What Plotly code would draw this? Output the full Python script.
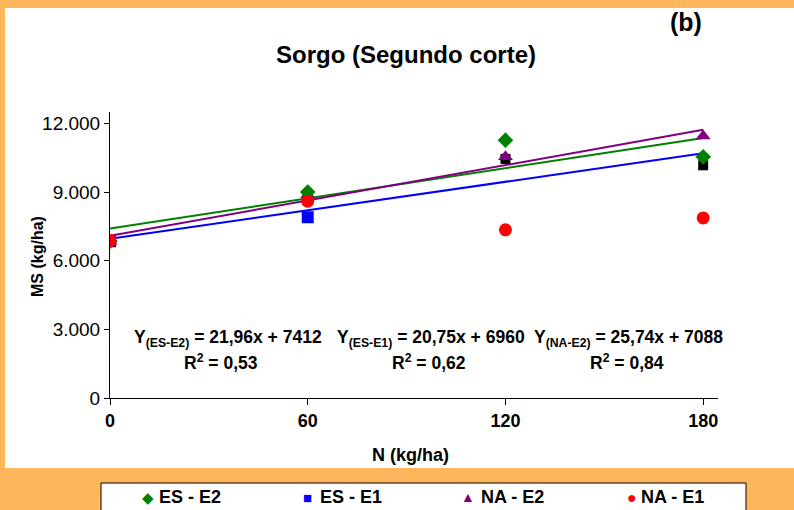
import plotly.graph_objects as go

# ---- data ----
N = [0, 60, 120, 180]
es_e2 = [6850, 9000, 11270, 10540]
es_e1 = [6850, 7900, 10450, 10170]
na_e2 = [6850, 8880, 10540, 11450]
na_e1 = [6880, 8600, 7350, 7870]
# trend-line coefficients as printed on the chart (slope, intercept)
fit_names = ["ES - E2", "ES - E1", "NA - E2"]
fit_slope = [21.96, 20.75, 25.74]
fit_icpt = [7412, 6960, 7088]
eq_texts = ["Y<sub>(ES-E2)</sub> = 21,96x + 7412",
            "Y<sub>(ES-E1)</sub> = 20,75x + 6960",
            "Y<sub>(NA-E2)</sub> = 25,74x + 7088"]
r2_texts = ["R<sup>2</sup> = 0,53", "R<sup>2</sup> = 0,62", "R<sup>2</sup> = 0,84"]
legend_labels = ["ES - E2", "ES - E1", "NA - E2", "NA - E1"]
y_ticks = [0, 3000, 6000, 9000, 12000]
x_ticks = [0, 60, 120, 180]

W, H = 794, 510
L, R, T, B = 110, 718, 112, 398  # plot area pixels

def px(x):
    return (x - L) / (R - L)

def py(y):
    return (B - y) / (B - T)

FONT = "Liberation Sans, Arial, sans-serif"
fig = go.Figure()

fit_colors = ["#008000", "#0000FF", "#800080"]
xs_fit = [N[0], N[-1]]
for name, m, c, col in zip(fit_names, fit_slope, fit_icpt, fit_colors):
    fig.add_trace(go.Scatter(x=xs_fit, y=[c + m * x for x in xs_fit], mode="lines",
                             line=dict(color=col, width=2), showlegend=False,
                             hoverinfo="skip"))

# ES - E1 squares (last two drawn black as in the original)
fig.add_trace(go.Scatter(x=N[:2], y=es_e1[:2], mode="markers", name="ES - E1",
                         marker=dict(symbol="square", size=12, color="#0000FF"),
                         showlegend=False))
fig.add_trace(go.Scatter(x=N[2:], y=es_e1[2:], mode="markers", name="ES - E1",
                         marker=dict(symbol="square", size=10, color="#000000"),
                         showlegend=False))
fig.add_trace(go.Scatter(x=N, y=na_e2, mode="markers", name="NA - E2",
                         marker=dict(symbol="triangle-up", size=13, color="#800080"),
                         showlegend=False))
fig.add_trace(go.Scatter(x=N, y=es_e2, mode="markers", name="ES - E2",
                         marker=dict(symbol="diamond", size=12, color="#008000"),
                         showlegend=False))
fig.add_trace(go.Scatter(x=N, y=na_e1, mode="markers", name="NA - E1",
                         marker=dict(symbol="circle", size=13, color="#FF0000"),
                         showlegend=False))

shapes = [
    dict(type="rect", xref="paper", yref="paper", x0=px(5), x1=px(800),
         y0=py(468), y1=py(8), fillcolor="white", line=dict(width=0), layer="below"),
    dict(type="rect", xref="paper", yref="paper", x0=px(101), x1=px(746),
         y0=py(540), y1=py(483), fillcolor="white",
         line=dict(color="black", width=1), layer="above"),
]

ann = []
ann.append(dict(text="<b>Sorgo (Segundo corte)</b>", x=px(406), y=py(55),
                font=dict(size=24)))
ann.append(dict(text="<b>(b)</b>", x=px(686), y=py(22), font=dict(size=25)))
ann.append(dict(text="<b>N (kg/ha)</b>", x=px(410), y=py(455), font=dict(size=18)))
ann.append(dict(text="<b>MS (kg/ha)</b>", x=px(37), y=py(257), textangle=-90,
                font=dict(size=16)))
eq_x = [228, 431, 628]
r2_x = [221, 429, 627]
for t, x in zip(eq_texts, eq_x):
    ann.append(dict(text="<b>" + t + "</b>", x=px(x), y=py(338), font=dict(size=17.5)))
for t, x in zip(r2_texts, r2_x):
    ann.append(dict(text="<b>" + t + "</b>", x=px(x), y=py(362), font=dict(size=17.5)))

for a in ann:
    a.update(xanchor="center")

leg_syms = [("◆", "#008000", 148, 15), ("■", "#0000FF", 307, 15),
            ("▲", "#800080", 468, 14), ("●", "#FF0000", 632, 16)]
leg_text_x = [157, 318, 479, 639]
for (sym, col, x, s), lab, tx in zip(leg_syms, legend_labels, leg_text_x):
    ann.append(dict(text=sym, x=px(x), y=py(497), xanchor="center",
                    font=dict(size=s, color=col)))
    ann.append(dict(text="<b>" + lab + "</b>", x=px(tx), y=py(497), xanchor="left",
                    font=dict(size=18)))

for a in ann:
    a.update(xref="paper", yref="paper", showarrow=False, yanchor="middle")
    a["font"].update(family=FONT)
    a["font"].setdefault("color", "black")

fig.update_layout(
    width=W, height=H,
    margin=dict(l=L, r=W - R, t=T, b=H - B),
    paper_bgcolor="#FFB75E", plot_bgcolor="white",
    separators=",.",
    shapes=shapes, annotations=ann,
    font=dict(family=FONT, color="black"),
    showlegend=False,
)
fig.update_xaxes(range=[0, 184.5], tickvals=x_ticks, showline=True, linecolor="black",
                 linewidth=1, ticks="outside", ticklen=6, tickcolor="black",
                 showgrid=False, zeroline=False,
                 tickfont=dict(size=18, family=FONT, weight="bold"))
fig.update_yaxes(range=[0, 12500], tickvals=y_ticks, tickformat=",.0f", showline=True,
                 linecolor="black", linewidth=1, ticks="outside", ticklen=5,
                 tickcolor="black", showgrid=False, zeroline=False,
                 tickfont=dict(size=19, family=FONT))

fig.write_html("out.html", config={"displayModeBar": False},
               post_script="document.body.style.margin='0';"
                           "document.body.style.overflow='hidden';")
